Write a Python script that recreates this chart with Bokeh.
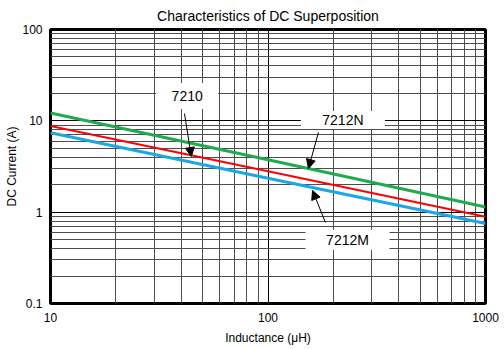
from bokeh.plotting import figure
from bokeh.models import Range1d, FixedTicker, CustomJSTickFormatter, Arrow, NormalHead
from bokeh.core.properties import value
from bokeh.embed import file_html
from bokeh.resources import INLINE

# ---- data ----
inductance = [10, 100, 1000]
cur_7212N = [12.2, 3.75, 1.14]
cur_7210 = [8.8, 2.8, 0.89]
cur_7212M = [7.4, 2.35, 0.75]

x_ticks = [10, 100, 1000]
x_minor = [20, 30, 40, 50, 60, 70, 80, 90, 200, 300, 400, 500, 600, 700, 800, 900]
y_ticks = [0.1, 1, 10, 100]
y_minor = [0.2, 0.3, 0.4, 0.5, 0.6, 0.7, 0.8, 0.9, 2, 3, 4, 5, 6, 7, 8, 9,
           20, 30, 40, 50, 60, 70, 80, 90]

title_text = "Characteristics of DC Superposition"

# annotation labels (data coordinates)
label_text = ["7210", "7212N", "7212M"]
label_x = [42.5, 221, 232]
label_y = [18.7, 10.2, 0.50]
label_w = [62, 84, 84]
label_h = [26, 18, 20]

arrow_x0 = [41.3, 170.6, 183.6]
arrow_y0 = [12.0, 7.46, 0.771]
arrow_x1 = [44.4, 153.5, 160.3]
arrow_y1 = [4.07, 3.01, 1.73]

FONT = "Liberation Sans"

p = figure(width=504, height=349, x_axis_type="log", y_axis_type="log",
           x_range=Range1d(10, 1000), y_range=Range1d(0.1, 100),
           output_backend="svg", toolbar_location=None,
           title=title_text,
           min_border_left=50, min_border_right=19, min_border_top=29, min_border_bottom=46)

p.background_fill_color = "white"
p.border_fill_color = "white"
p.outline_line_color = "black"
p.outline_line_width = 3

p.title.align = "center"
p.title.text_font = FONT
p.title.text_font_size = "14px"
p.title.text_font_style = "normal"
p.title.text_color = "black"
p.title.standoff = 11

fmt = CustomJSTickFormatter(code="return String(tick);")
p.xaxis.ticker = FixedTicker(ticks=x_ticks, minor_ticks=x_minor)
p.yaxis.ticker = FixedTicker(ticks=y_ticks, minor_ticks=y_minor)
for ax in (p.xaxis[0], p.yaxis[0]):
    ax.formatter = fmt
    ax.axis_line_color = None
    ax.major_tick_line_color = None
    ax.minor_tick_line_color = None
    ax.major_tick_out = 0
    ax.major_tick_in = 0
    ax.minor_tick_out = 0
    ax.minor_tick_in = 0
    ax.major_label_text_font = FONT
    ax.major_label_text_font_size = "12px"
    ax.major_label_text_color = "black"
    ax.axis_label_text_font = FONT
    ax.axis_label_text_font_size = "12px"
    ax.axis_label_text_font_style = "normal"
    ax.axis_label_text_color = "black"

p.xaxis.axis_label = "Inductance (μH)"
p.yaxis.axis_label = "DC Current (A)"
p.xaxis.major_label_standoff = 9
p.xaxis.axis_label_standoff = 6
p.yaxis.major_label_standoff = 8
p.yaxis.axis_label_standoff = 0

for g in (p.xgrid[0], p.ygrid[0]):
    g.grid_line_color = "black"
    g.grid_line_width = 1
    g.minor_grid_line_color = "#4d4d4d"
    g.minor_grid_line_width = 1

# curves
p.line(inductance, cur_7212N, line_color="#1faa4f", line_width=3)
p.line(inductance, cur_7210, line_color="#ff0000", line_width=2)
p.line(inductance, cur_7212M, line_color="#1ba6e8", line_width=3)

# label boxes and texts
p.rect(x=label_x, y=label_y, width=label_w, height=label_h,
       width_units="screen", height_units="screen",
       fill_color="white", line_color=None)
p.text(x=label_x, y=label_y, text=label_text, text_align="center",
       text_baseline="middle", text_font=value(FONT), text_font_size="14px",
       text_color="black")

for xs, ys, xe, ye in zip(arrow_x0, arrow_y0, arrow_x1, arrow_y1):
    p.add_layout(Arrow(x_start=xs, y_start=ys, x_end=xe, y_end=ye,
                       line_color="black", line_width=1,
                       end=NormalHead(size=9, fill_color="black", line_color="black")))

open("out.html", "w").write(file_html(p, INLINE))
